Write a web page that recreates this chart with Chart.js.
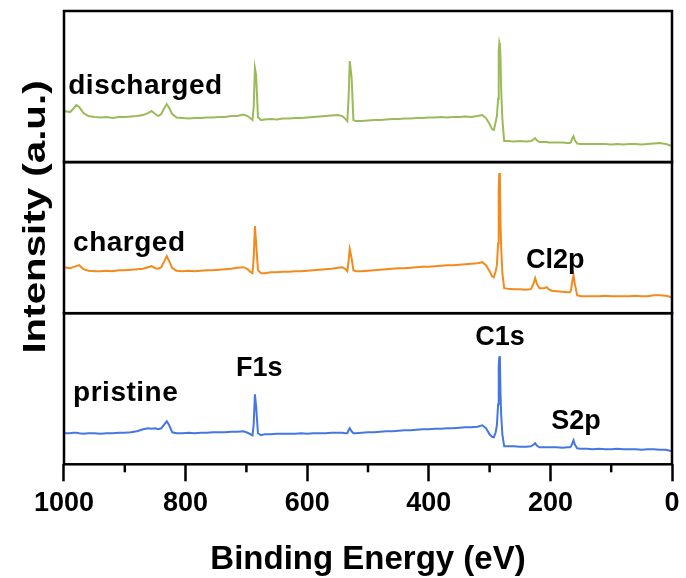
<!DOCTYPE html>
<html>
<head>
<meta charset="utf-8">
<script src="https://cdn.jsdelivr.net/npm/chart.js@4"></script>
<style>
  html, body { margin: 0; padding: 0; background: #fff; }
  #wrap { width: 686px; height: 578px; }
</style>
</head>
<body>
<div id="wrap"><canvas id="chart"></canvas></div>
<script>
// binding energy grid (eV), shared by the three survey spectra
const energies = [
  1000, 990, 985, 980, 975, 968, 960, 950, 940, 930,
  920, 910, 900, 890, 880, 870, 862, 856, 850, 845,
  840, 835, 831, 827, 822, 815, 805, 795, 785, 775,
  765, 755, 745, 735, 725, 715, 705, 698, 693, 690,
  688, 686, 684, 681, 676, 670, 660, 650, 640, 630,
  620, 610, 600, 590, 580, 570, 560, 550, 542, 537,
  534, 532, 530, 527, 524, 520, 510, 500, 490, 480,
  470, 460, 450, 440, 430, 420, 410, 400, 390, 380,
  370, 360, 350, 340, 330, 320, 312, 306, 300, 296,
  293, 290, 288, 286, 285, 284, 283, 282, 281, 279,
  276, 270, 260, 250, 240, 232, 228, 225, 222, 218,
  210, 206, 203, 198, 190, 180, 172, 168, 166, 164,
  162, 160, 156, 150, 140, 130, 120, 110, 100, 90,
  80, 70, 60, 50, 40, 30, 20, 10, 0
]

// intensities (a.u.), each panel runs 0..151
const discharged = [
  51, 50, 53, 57, 55, 49, 46, 45, 44.5, 45,
  44, 45, 45, 45.5, 46, 47, 49, 51, 48, 46,
  48, 54, 58, 54, 48, 44.5, 44, 43.5, 44, 44,
  44.5, 44.5, 45, 45, 46, 46, 47.5, 46, 43.5, 42,
  55, 94, 87, 45, 42, 42.5, 43, 42.5, 43.5, 43.5,
  44, 44, 44.5, 45, 45.5, 46, 46.5, 47, 46, 43,
  41, 63, 101, 85, 42, 41, 41, 41.5, 42, 42,
  42.5, 43, 43, 43.5, 43.5, 44, 44, 44.5, 44.5, 45,
  44.5, 45, 45, 45.5, 45, 46, 47, 44, 38, 33,
  32, 40, 46, 63, 111, 119, 116, 103, 73, 43,
  21, 21, 20.5, 21, 20.5, 21, 22.5, 24, 21.5, 20,
  20, 20, 19.5, 19.5, 19.5, 19.5, 19, 19, 20, 24,
  26, 22, 18.5, 18, 18, 18, 18, 18, 17.5, 18,
  17.5, 18, 18, 17.5, 18, 18.5, 19, 18, 16
]
const charged = [
  46, 45, 46, 47, 48, 44, 42.5, 42, 42, 42.5,
  42, 43, 43, 43.5, 44, 44.5, 46, 47, 45, 44.5,
  46, 52, 57, 52, 45, 42.5, 42, 42.5, 42, 42.5,
  43, 43, 43.5, 44, 44.5, 45.5, 46, 44, 41, 40,
  55, 87, 70, 43, 40, 40, 41, 41, 41.5, 41.5,
  42, 42, 42.5, 43, 43.5, 44, 44.5, 45.5, 46, 44,
  42, 52, 64, 55, 43, 42, 42, 42.5, 43, 43.5,
  44, 44.5, 45, 45, 45.5, 46, 46.5, 46.5, 47, 47.5,
  48, 48, 48.5, 49, 49.5, 50, 51, 48, 42, 37,
  36, 42, 48, 70, 125, 140, 132, 90, 66, 40,
  25, 24.5, 24, 24, 23.5, 24, 29, 35, 29, 25,
  25, 26, 24, 22.5, 22, 21.5, 21, 21, 23, 32,
  38, 30, 18, 17, 17, 17, 17, 17.5, 17, 17,
  17, 17, 17.5, 17, 17, 18, 18, 17.5, 16
]
const pristine = [
  31, 31, 31.5, 31.5, 31, 30.5, 31, 31, 30.5, 31,
  31, 31.5, 31.5, 32, 33, 35, 36, 35.5, 36, 35,
  36, 40, 43, 39, 32, 31, 31, 31.5, 31, 31.5,
  31.5, 32, 32, 32, 32.5, 32.5, 33, 31.5, 30, 29,
  40, 70, 58, 31, 29, 30, 30, 30.5, 30.5, 30.5,
  30.5, 31, 30.5, 31, 31, 31, 31.5, 31.5, 31.5, 31,
  31, 34, 36, 33, 31, 31, 31.5, 32, 32, 32.5,
  33, 33, 33.5, 34, 34, 34.5, 35, 35, 35.5, 35.5,
  36, 36, 36.5, 37, 37, 37.5, 39, 36, 30, 27.5,
  27, 32, 39, 60, 98, 108, 103, 70, 50, 30,
  18, 18, 18, 17.5, 17.5, 18, 19.5, 21, 18.5, 17,
  17, 17, 17, 17, 17, 16.5, 17, 17, 18, 21,
  24, 20, 16, 15.5, 15.5, 15, 15.5, 15, 15, 15.5,
  15, 15, 15, 14.5, 15, 15, 14.5, 14.5, 13
]

const seriesNames = ['discharged', 'charged', 'pristine']
const seriesColors = ['#9bbb59', '#f38a1c', '#4577e3']
const panelIds = ['yD', 'yC', 'yP']
const nameEnergies = [993, 985, 985]
const nameHeights = [76, 70, 71]

const xTicks = [1000, 800, 600, 400, 200, 0]
const minorTicks = [900, 700, 500, 300, 100]

const peakLabels = ['F1s', 'C1s', 'S2p', 'Cl2p']
const peakEnergies = [679, 283, 158, 192]
const peakHeights = [96, 127, 43, 53]
const peakPanels = ['yP', 'yP', 'yP', 'yC']

const FONT = '"Liberation Sans", Arial, sans-serif'

const toPoints = (vals) => vals.map((v, i) => ({ x: energies[i], y: v }))

const panelPlugin = {
  id: 'panels',
  afterDatasetsDraw(chart) {
    const { ctx, chartArea, scales } = chart
    const x = scales.x
    ctx.save()
    ctx.strokeStyle = '#000'
    ctx.lineWidth = 2.5
    panelIds.forEach(id => {
      const s = scales[id]
      ctx.strokeRect(chartArea.left, s.top, chartArea.right - chartArea.left, s.bottom - s.top)
    })
    // minor ticks, shorter than the labelled ones
    minorTicks.forEach(v => {
      const px = x.getPixelForValue(v)
      ctx.beginPath()
      ctx.moveTo(px, chartArea.bottom)
      ctx.lineTo(px, chartArea.bottom + 8)
      ctx.stroke()
    })

    ctx.fillStyle = '#000'
    ctx.textBaseline = 'middle'
    ctx.textAlign = 'left'
    ctx.font = 'bold 28px ' + FONT
    ctx.letterSpacing = '0.5px'
    seriesNames.forEach((name, i) => {
      ctx.fillText(name, x.getPixelForValue(nameEnergies[i]), scales[panelIds[i]].getPixelForValue(nameHeights[i]))
    })
    ctx.letterSpacing = '0px'
    ctx.font = 'bold 27px ' + FONT
    ctx.textAlign = 'center'
    peakLabels.forEach((lab, i) => {
      ctx.fillText(lab, x.getPixelForValue(peakEnergies[i]), scales[peakPanels[i]].getPixelForValue(peakHeights[i]))
    })

    // y title, stretched along its length like the original
    ctx.translate(36, 217)
    ctx.rotate(-Math.PI / 2)
    ctx.scale(1.3, 1)
    ctx.font = 'bold 31px ' + FONT
    ctx.fillText('Intensity (a.u.)', 0, 0)
    ctx.restore()
  }
}

const panelScale = () => ({
  type: 'linear',
  position: 'left',
  stack: 'panels',
  stackWeight: 1,
  min: 0,
  max: 151,
  offset: false,
  ticks: { display: false },
  grid: { display: false },
  border: { display: false }
})

new Chart(document.getElementById('chart'), {
  type: 'line',
  data: {
    datasets: seriesNames.map((name, i) => ({
      label: name,
      data: toPoints([discharged, charged, pristine][i]),
      yAxisID: panelIds[i],
      borderColor: seriesColors[i],
      borderWidth: 2,
      pointRadius: 0,
      tension: 0
    }))
  },
  options: {
    responsive: true,
    maintainAspectRatio: false,
    animation: false,
    layout: { padding: { left: 56, right: 14, top: 11, bottom: 0 } },
    plugins: { legend: { display: false }, tooltip: { enabled: false } },
    scales: {
      x: {
        type: 'linear',
        reverse: true,
        min: 0,
        max: 1000,
        afterBuildTicks: s => { s.ticks = xTicks.map(v => ({ value: v })) },
        ticks: { color: '#000', font: { family: FONT, size: 27, weight: 'bold' }, padding: 6, maxRotation: 0, autoSkip: false, callback: v => String(v) },
        grid: { display: true, drawOnChartArea: false, tickLength: 17, tickWidth: 2.5, tickColor: '#000' },
        border: { display: false },
        title: { display: true, text: 'Binding Energy (eV)', color: '#000', font: { family: FONT, size: 33, weight: 'bold', lineHeight: 1.1 }, padding: { top: 16, bottom: 0 } }
      },
      // stacked panels are laid out bottom-up in definition order
      yP: panelScale(),
      yC: panelScale(),
      yD: panelScale()
    }
  },
  plugins: [panelPlugin]
})
</script>
</body>
</html>
